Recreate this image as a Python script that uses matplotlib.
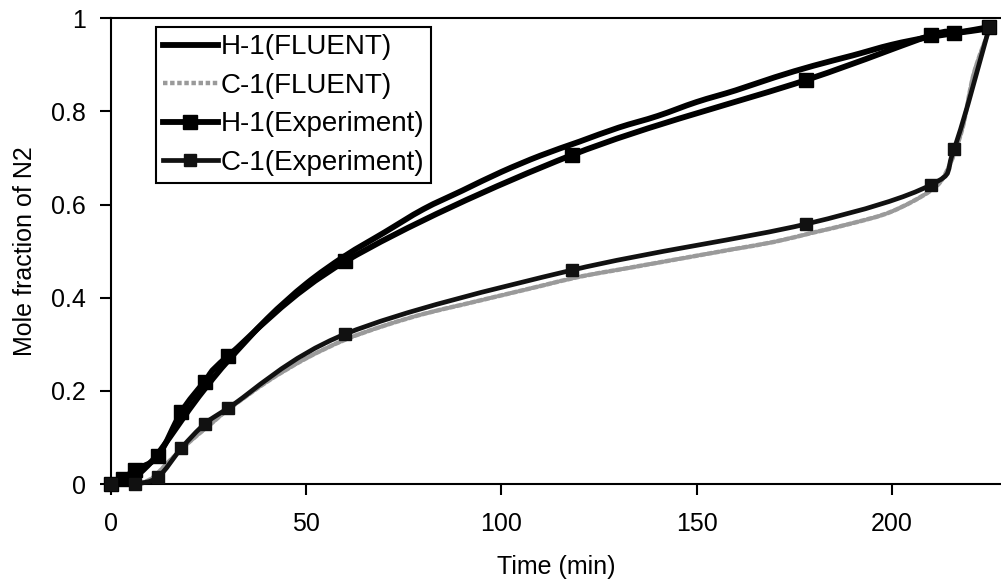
import matplotlib
matplotlib.use("Agg")
import matplotlib.pyplot as plt
from matplotlib.path import Path
from matplotlib.patches import PathPatch
from matplotlib.lines import Line2D

plt.rcParams["font.family"] = ["Liberation Sans", "DejaVu Sans"]

# Experimental points (time in min, mole fraction N2)
h1_exp_t = [0, 3, 6, 12, 18, 24, 30, 60, 118, 178, 210, 216, 225]
h1_exp_y = [0, 0.01, 0.03, 0.06, 0.155, 0.22, 0.275, 0.478, 0.706, 0.867, 0.963, 0.968, 0.981]

c1_exp_t = [0, 6, 12, 18, 24, 30, 60, 118, 178, 210, 216, 225]
c1_exp_y = [0, 0, 0.015, 0.077, 0.129, 0.163, 0.322, 0.459, 0.558, 0.642, 0.72, 0.98]

# FLUENT simulation curves
h1_fl_t = [0, 5, 10, 15, 20, 25, 30, 40, 50, 60, 70, 80, 90, 100, 110, 120,
           130, 140, 150, 160, 170, 180, 190, 200, 210, 220, 225]
h1_fl_y = [0, 0.01, 0.045, 0.1, 0.16, 0.215, 0.265, 0.355, 0.43, 0.49, 0.54,
           0.59, 0.63, 0.67, 0.705, 0.735, 0.765, 0.79, 0.82, 0.845, 0.873,
           0.898, 0.92, 0.943, 0.96, 0.972, 0.978]

c1_fl_t = [0, 5, 10, 15, 20, 25, 30, 40, 50, 60, 70, 80, 90, 100, 110, 120,
           130, 140, 150, 160, 170, 180, 190, 200, 210, 214, 218, 221, 225]
c1_fl_y = [0, 0, 0.01, 0.05, 0.09, 0.125, 0.16, 0.22, 0.27, 0.31, 0.34, 0.365,
           0.385, 0.405, 0.425, 0.445, 0.46, 0.475, 0.49, 0.505, 0.52, 0.54,
           0.56, 0.585, 0.63, 0.67, 0.76, 0.88, 0.975]


def smooth_path(xs, ys):
    # Excel-like smoothed line: cubic Bezier segments through the points
    pts = list(zip(xs, ys))
    verts = [pts[0]]
    codes = [Path.MOVETO]
    n = len(pts)
    for i in range(n - 1):
        p0 = pts[i - 1] if i > 0 else pts[i]
        p1 = pts[i]
        p2 = pts[i + 1]
        p3 = pts[i + 2] if i + 2 < n else pts[i + 1]
        c1 = (p1[0] + (p2[0] - p0[0]) / 6, p1[1] + (p2[1] - p0[1]) / 6)
        c2 = (p2[0] - (p3[0] - p1[0]) / 6, p2[1] - (p3[1] - p1[1]) / 6)
        verts += [c1, c2, p2]
        codes += [Path.CURVE4] * 3
    return Path(verts, codes)


def draw_curve(ax, xs, ys, **kw):
    patch = PathPatch(smooth_path(xs, ys), fill=False, transform=ax.transData,
                      clip_on=False, capstyle="round", joinstyle="round", **kw)
    ax.add_patch(patch)


fig = plt.figure(figsize=(10.01, 5.86), dpi=100)
ax = fig.add_axes([0.111, 0.174, 0.889, 0.795])

fl_gray = "#9a9a9a"
draw_curve(ax, h1_fl_t, h1_fl_y, edgecolor="black", lw=4.2, zorder=3)
draw_curve(ax, c1_fl_t, c1_fl_y, edgecolor=fl_gray, lw=3.2, ls=(0, (1, 0.6)), zorder=2)
draw_curve(ax, h1_exp_t, h1_exp_y, edgecolor="black", lw=4.2, zorder=3)
draw_curve(ax, c1_exp_t, c1_exp_y, edgecolor="#111111", lw=3.4, zorder=3)

ax.plot(h1_exp_t, h1_exp_y, ls="none", marker="s", ms=10, color="black",
        clip_on=False, zorder=4)
ax.plot(c1_exp_t, c1_exp_y, ls="none", marker="s", ms=8.5, color="#111111",
        clip_on=False, zorder=4)

ax.set_xlim(0, 228)
ax.set_ylim(0, 1)
ax.set_xticks([0, 50, 100, 150, 200])
ax.set_yticks([0, 0.2, 0.4, 0.6, 0.8, 1.0])
ax.set_yticklabels(["0", "0.2", "0.4", "0.6", "0.8", "1"])
ax.tick_params(direction="out", length=8, width=1.5, labelsize=18)
ax.tick_params(axis="x", pad=12)
ax.tick_params(axis="y", pad=10)

for s in ["left", "bottom", "top"]:
    ax.spines[s].set_linewidth(1.5)
ax.spines["right"].set_visible(False)

ax.set_xlabel("Time (min)", fontsize=18, labelpad=14)
ax.set_ylabel("Mole fraction of N2", fontsize=18, labelpad=10)

handles = [
    Line2D([], [], color="black", lw=4.2),
    Line2D([], [], color=fl_gray, lw=3.2, ls=(0, (1, 0.6))),
    Line2D([], [], color="black", lw=4.2, marker="s", ms=10),
    Line2D([], [], color="#111111", lw=3.4, marker="s", ms=8.5),
]
labels = ["H-1(FLUENT)", "C-1(FLUENT)", "H-1(Experiment)", "C-1(Experiment)"]
leg = ax.legend(handles, labels, loc="upper left", bbox_to_anchor=(0.05, 0.98),
                fontsize=20, frameon=True, fancybox=False, edgecolor="black",
                framealpha=1, handlelength=2.0, handletextpad=0.1, borderpad=0.25,
                labelspacing=0.45, borderaxespad=0)
leg.get_frame().set_linewidth(1.5)
leg.set_zorder(5)

fig.savefig("out.png", dpi=100)
